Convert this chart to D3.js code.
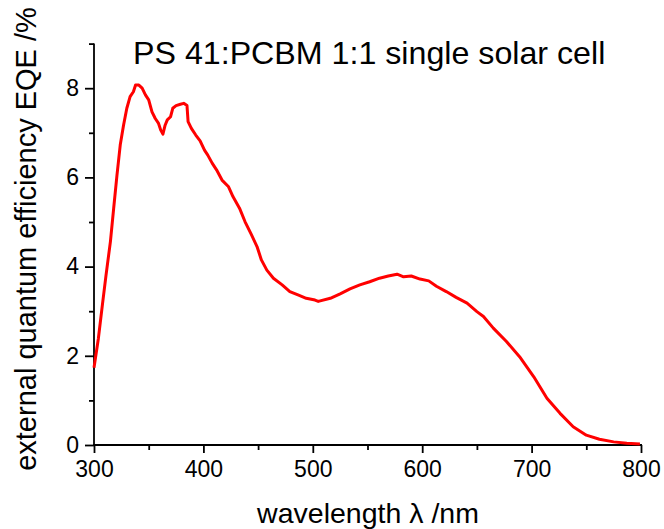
<!DOCTYPE html>
<html>
<head>
<meta charset="utf-8">
<script src="https://cdn.jsdelivr.net/npm/d3@7"></script>
<style>
  html, body { margin: 0; padding: 0; background: #fff; }
  svg { display: block; font-family: "Liberation Sans", Arial, sans-serif; }
</style>
</head>
<body>
<svg id="chart" width="664" height="529"></svg>
<script>
const wavelengths = [300, 304, 308, 311, 315, 318, 321, 324, 327, 330, 333, 336, 338, 341, 344, 347, 350, 353, 356, 359, 361, 363, 365, 367, 370, 372, 375, 379, 382, 385, 386, 389, 393, 397, 401, 404, 408, 412, 417, 423, 427, 433, 438, 444, 449, 453, 458, 464, 472, 479, 487, 494, 502, 505, 516, 525, 534, 543, 552, 561, 569, 577, 583, 590, 598, 606, 613, 622, 631, 641, 650, 656, 665, 677, 689, 702, 714, 726, 738, 750, 762, 775, 787, 799];
const eqe = [1.73, 2.39, 3.21, 3.81, 4.56, 5.31, 6.05, 6.73, 7.17, 7.55, 7.81, 7.92, 8.07, 8.07, 8.00, 7.85, 7.74, 7.47, 7.32, 7.21, 7.06, 6.97, 7.17, 7.29, 7.36, 7.55, 7.61, 7.64, 7.66, 7.61, 7.25, 7.10, 6.95, 6.82, 6.61, 6.50, 6.32, 6.17, 5.94, 5.79, 5.57, 5.31, 5.01, 4.71, 4.45, 4.15, 3.92, 3.74, 3.59, 3.44, 3.36, 3.29, 3.25, 3.22, 3.29, 3.39, 3.50, 3.59, 3.66, 3.74, 3.79, 3.83, 3.77, 3.79, 3.72, 3.68, 3.56, 3.44, 3.31, 3.18, 2.99, 2.88, 2.62, 2.32, 1.98, 1.53, 1.05, 0.71, 0.41, 0.22, 0.13, 0.07, 0.04, 0.02];
const xMajorTicks = [300, 400, 500, 600, 700, 800];
const xMinorTicks = [350, 450, 550, 650, 750];
const yMajorTicks = [0, 2, 4, 6, 8];
const yMinorTicks = [1, 3, 5, 7, 9];
const titleText = "PS 41:PCBM 1:1 single solar cell";
const xTitle = "wavelength \u03BB /nm";
const yTitle = "external quantum efficiency EQE /%";

const svg = d3.select("#chart");
const x = d3.scaleLinear().domain([300, 800]).range([94, 641]);
const y = d3.scaleLinear().domain([0, 9]).range([445, 43.6]);

const axisColor = "#000";
const font = "'Liberation Sans', Arial, sans-serif";

// X axis
const gx = svg.append("g").attr("transform", `translate(0,${y(0)})`);
gx.call(d3.axisBottom(x).tickValues(xMajorTicks).tickSize(8).tickPadding(8).tickFormat(d3.format("d")));
gx.append("g").call(d3.axisBottom(x).tickValues(xMinorTicks).tickSize(5).tickFormat(""));
gx.selectAll(".domain").remove();
gx.append("line").attr("x1", x(300) - 1).attr("x2", x(800) + 1).attr("stroke", axisColor).attr("stroke-width", 1.8);

// Y axis
const gy = svg.append("g").attr("transform", `translate(${x(300)},0)`);
gy.call(d3.axisLeft(y).tickValues(yMajorTicks).tickSize(9).tickPadding(6).tickFormat(d3.format("d")));
gy.append("g").call(d3.axisLeft(y).tickValues(yMinorTicks).tickSize(5).tickFormat(""));
gy.selectAll(".domain").remove();
gy.append("line").attr("y1", y(0) + 1).attr("y2", y(9)).attr("stroke", axisColor).attr("stroke-width", 1.8);

svg.selectAll(".tick line").attr("stroke", axisColor).attr("stroke-width", 1.8);
svg.selectAll(".tick text").attr("fill", "#000").style("font-family", font).style("font-size", "23px");
gx.selectAll(".tick text").attr("dy", "0.71em");

// Curve
const data = wavelengths.map((w, i) => ({ w, v: eqe[i] }));
svg.append("path")
  .datum(data)
  .attr("fill", "none")
  .attr("stroke", "#ff0000")
  .attr("stroke-width", 3)
  .attr("stroke-linejoin", "round")
  .attr("d", d3.line().x(d => x(d.w)).y(d => y(d.v)));

// Titles
svg.append("text")
  .attr("x", 133).attr("y", 64)
  .style("font-family", font).style("font-size", "32.2px")
  .attr("fill", "#000")
  .text(titleText);

svg.append("text")
  .attr("x", 368).attr("y", 523)
  .attr("text-anchor", "middle")
  .style("font-family", font).style("font-size", "28.5px")
  .attr("fill", "#000")
  .text(xTitle);

svg.append("text")
  .attr("transform", "translate(36,239) rotate(-90)")
  .attr("text-anchor", "middle")
  .style("font-family", font).style("font-size", "29px")
  .attr("fill", "#000")
  .text(yTitle);
</script>
</body>
</html>
